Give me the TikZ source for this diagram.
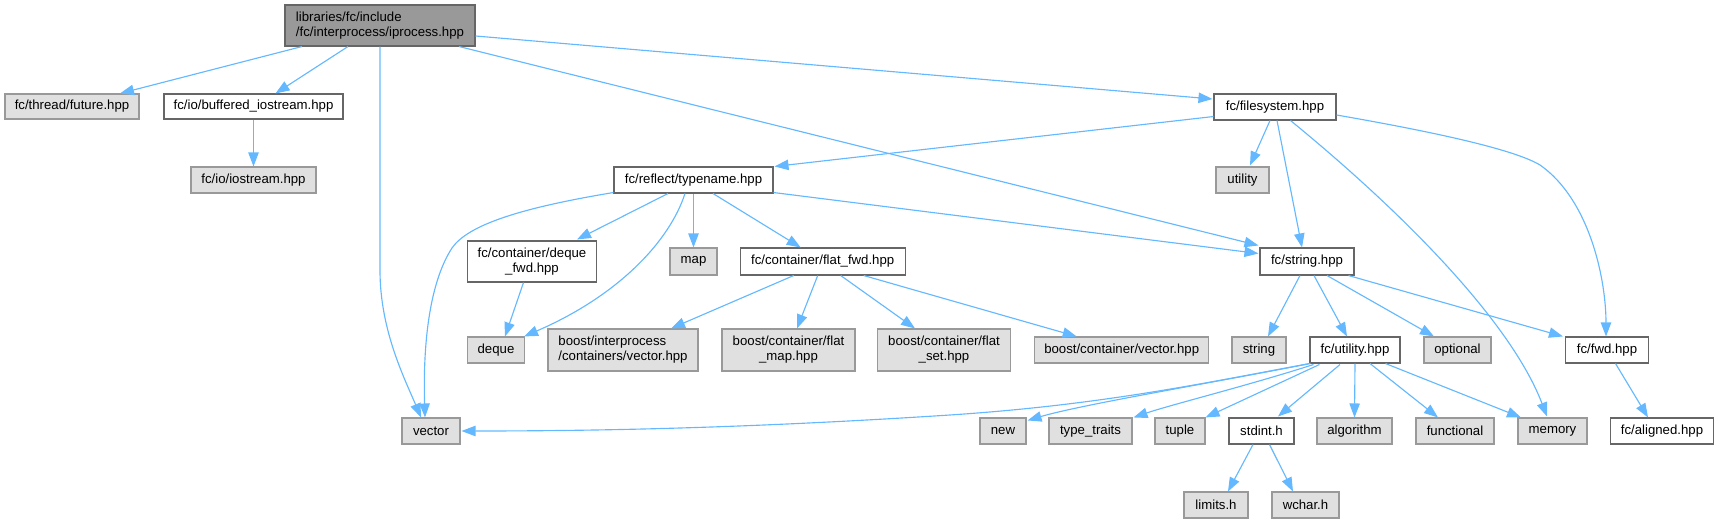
\documentclass[tikz,border=0pt]{standalone}
\usepackage{fontspec}
\setmainfont{Liberation Sans}
\usetikzlibrary{arrows.meta,calc}
\definecolor{gfill}{HTML}{E0E0E0}
\definecolor{gdraw}{HTML}{999999}
\definecolor{wdraw}{HTML}{666666}
\definecolor{rfill}{HTML}{999999}
\definecolor{ecol}{HTML}{63B8FF}
\newcommand{\fsz}{\fontsize{9.9pt}{11.25pt}\selectfont}
\tikzset{
  sz/.style 2 args={minimum width={0.75pt*#1},minimum height={0.75pt*#2}},
  base/.style={rectangle, inner sep=0pt, font=\fsz, line width=0.8pt},
  gbox/.style={base, fill=gfill, draw=gdraw},
  wbox/.style={base, fill=white, draw=wdraw},
  rbox/.style={base, fill=rfill, draw=wdraw},
  edge/.style={draw=ecol, line width=0.85pt, -{Triangle[length=10.5pt,width=7.8pt]}}
}
\begin{document}
\begin{tikzpicture}[x=0.75pt,y=-0.75pt]
\useasboundingbox (0,0) rectangle (1718,523);
% nodes
\node[rbox, sz={190}{41}, align=left] (root) at (380,25.5) {libraries/fc/include\\/fc/interprocess/iprocess.hpp};
\node[gbox, sz={134}{25}] (future) at (72,106.5) {fc/thread/future.hpp};
\node[wbox, sz={179}{25}] (buffered) at (253.5,106.5) {fc/io/buffered\_iostream.hpp};
\node[gbox, sz={125}{26}] (iostream) at (253.5,180) {fc/io/iostream.hpp};
\node[wbox, sz={122}{26}] (filesystem) at (1275,107) {fc/filesystem.hpp};
\node[wbox, sz={159}{26}] (typename) at (693.5,180) {fc/reflect/typename.hpp};
\node[gbox, sz={53}{26}] (utility) at (1242.5,180) {utility};
\node[wbox, sz={129}{41}, align=center] (dequefwd) at (532,261.5) {fc/container/deque\\\_fwd.hpp};
\node[gbox, sz={47}{27}] (map) at (693.5,261.5) {map};
\node[wbox, sz={165}{27}] (flatfwd) at (822.7,261.5) {fc/container/flat\_fwd.hpp};
\node[wbox, sz={94}{27}] (stringhpp) at (1307,261.5) {fc/string.hpp};
\node[gbox, sz={57}{26}] (deque) at (496,350) {deque};
\node[gbox, sz={150}{42}, align=left] (bip) at (623,350) {boost/interprocess\\/containers/vector.hpp};
\node[gbox, sz={133}{42}, align=center] (flatmap) at (788.5,350) {boost/container/flat\\\_map.hpp};
\node[gbox, sz={133}{42}, align=center] (flatset) at (944,350) {boost/container/flat\\\_set.hpp};
\node[gbox, sz={174.5}{26}] (bcvector) at (1121.7,350) {boost/container/vector.hpp};
\node[gbox, sz={54}{26}] (string) at (1259,350) {string};
\node[wbox, sz={90}{26}] (utilityhpp) at (1355,350) {fc/utility.hpp};
\node[gbox, sz={67}{26}] (optional) at (1457.5,350) {optional};
\node[wbox, sz={83}{26}] (fwd) at (1607,350) {fc/fwd.hpp};
\node[gbox, sz={58}{26}] (vector) at (431,431) {vector};
\node[gbox, sz={46}{26}] (new) at (1003,431) {new};
\node[gbox, sz={83}{26}] (typetraits) at (1090.5,431) {type\_traits};
\node[gbox, sz={50}{26}] (tuple) at (1180,431) {tuple};
\node[wbox, sz={65}{26}] (stdint) at (1261.5,431) {stdint.h};
\node[gbox, sz={75}{26}] (algorithm) at (1354.5,431) {algorithm};
\node[gbox, sz={78}{26}] (functional) at (1455,431) {functional};
\node[gbox, sz={69}{26}] (memory) at (1552.5,431) {memory};
\node[wbox, sz={103.6}{26}] (aligned) at (1662,431) {fc/aligned.hpp};
\node[gbox, sz={64}{26}] (limits) at (1216,505) {limits.h};
\node[gbox, sz={67}{26}] (wchar) at (1305.5,505) {wchar.h};
% edges from root
\draw[edge] ($(root.south)+(-78,0)$) -- ($(future.north)+(48,0)$);
\draw[edge] ($(root.south)+(-32,0)$) -- ($(buffered.north)+(22,0)$);
\draw[edge] (root.south) -- ($(root.south)+(0,224)$) .. controls ($(root.south)+(0,284)$) and ($(vector.north)+(-26,-38)$) .. ($(vector.north)+(-10,0)$);
\draw[edge] ($(root.south)+(79,0)$) -- ($(stringhpp.north west)+(-1,-2)$);
\draw[edge] ($(root.east)+(0,10.5)$) -- ($(filesystem.west)+(-1,-8)$);
\draw[edge] (buffered.south) -- (iostream.north);
% filesystem
\draw[edge] ($(filesystem.south west)+(0,-4)$) -- ($(typename.north east)+(1,0)$);
\draw[edge] ($(filesystem.south)+(-5,0)$) -- ($(utility.north)+(7.5,-1)$);
\draw[edge] ($(filesystem.south)+(2,0)$) -- ($(stringhpp.north)+(-5,0)$);
\draw[edge] ($(filesystem.south)+(15.5,0)$) .. controls (1400,210) and (1510,320) .. ($(memory.north)+(-5.5,-1)$);
\draw[edge] ($(filesystem.east)+(0,8)$) .. controls (1440,133) and (1515,150) .. (1540,165) .. controls (1590,200) and (1606,280) .. ($(fwd.north)+(-1,0)$);
% typename
\draw[edge] ($(typename.south west)+(0,-1)$) .. controls (520,208) and (468,225) .. (452,248) .. controls (428,285) and (423,350) .. ($(vector.north)+(-6,0)$);
\draw[edge] ($(typename.south)+(-25.5,0)$) -- ($(dequefwd.north east)+(-20,-1)$);
\draw[edge] ($(typename.south)+(-8.5,0)$) .. controls (670,240) and (620,295) .. ($(deque.north east)+(-1,0)$);
\draw[edge] (typename.south) -- (map.north);
\draw[edge] ($(typename.south)+(19.5,0)$) -- ($(flatfwd.north)+(-22,0)$);
\draw[edge] ($(typename.south east)+(0,-1)$) -- ($(stringhpp.west)+(-1,-8)$);
\draw[edge] ($(dequefwd.south)+(-8.5,0)$) -- ($(deque.north)+(9,0)$);
% flat_fwd
\draw[edge] ($(flatfwd.south)+(-29,0)$) -- ($(bip.north)+(48,0)$);
\draw[edge] ($(flatfwd.south)+(-5,0)$) -- ($(flatmap.north)+(8.5,0)$);
\draw[edge] ($(flatfwd.south)+(18,0)$) -- ($(flatset.north)+(-29,0)$);
\draw[edge] ($(flatfwd.south)+(41,0)$) -- ($(bcvector.north)+(-45,0)$);
% string.hpp
\draw[edge] ($(stringhpp.south)+(-7,0)$) -- ($(string.north)+(9,0)$);
\draw[edge] ($(stringhpp.south)+(7,0)$) -- ($(utilityhpp.north)+(-8,0)$);
\draw[edge] ($(stringhpp.south)+(20,0)$) -- ($(optional.north)+(-23.5,0)$);
\draw[edge] ($(stringhpp.south)+(41.5,0)$) -- ($(fwd.north west)+(-2,0)$);
% utility.hpp
\draw[edge] (utilityhpp.south west) .. controls (1200,384) and (1100,405) .. (950,415) .. controls (750,428) and (600,431) .. ($(vector.east)+(1,0)$);
\draw[edge] ($(utilityhpp.south west)+(1,0)$) .. controls (1200,385) and (1080,405) .. ($(new.north east)+(1,3)$);
\draw[edge] ($(utilityhpp.south west)+(4,1)$) .. controls (1250,385) and (1170,405) .. ($(typetraits.north east)+(1,0)$);
\draw[edge] ($(utilityhpp.south west)+(10,1)$) -- (tuple.north east);
\draw[edge] ($(utilityhpp.south)+(-15,1)$) -- ($(stdint.north)+(16.5,-1)$);
\draw[edge] (utilityhpp.south) -- (algorithm.north);
\draw[edge] ($(utilityhpp.south)+(15,0)$) -- ($(functional.north)+(-17,0)$);
\draw[edge] ($(utilityhpp.south)+(30.5,0)$) -- ($(memory.north)+(-31.5,0)$);
% stdint, fwd
\draw[edge] ($(stdint.south)+(-8.5,0)$) -- ($(limits.north)+(12,0)$);
\draw[edge] ($(stdint.south)+(8,0)$) -- ($(wchar.north)+(-12.5,0)$);
\draw[edge] ($(fwd.south)+(8.5,0)$) -- ($(aligned.north)+(-14,0)$);
\end{tikzpicture}
\end{document}
